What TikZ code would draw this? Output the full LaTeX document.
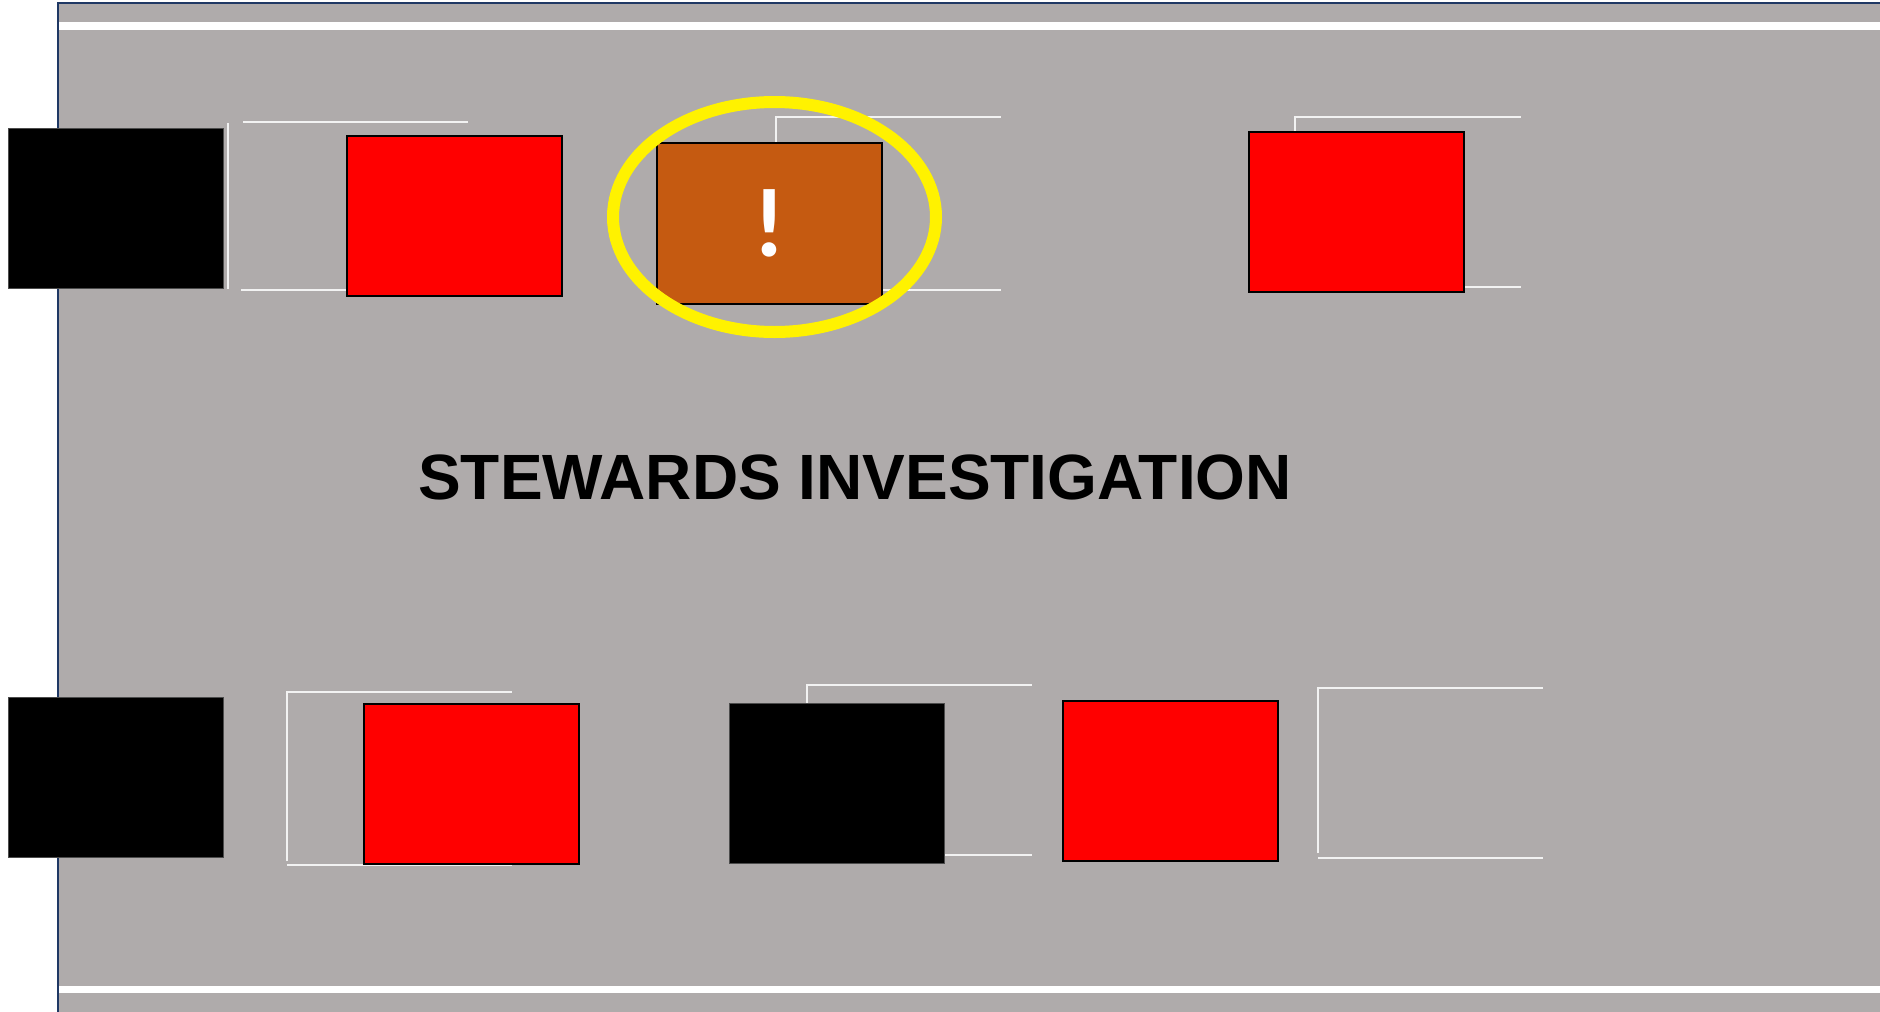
\documentclass[tikz,border=0pt]{standalone}
\usepackage{fontspec}
\usetikzlibrary{shapes.geometric}
\setmainfont{Liberation Sans}
\newfontfamily\carl{Carlito}
\definecolor{track}{HTML}{AFABAB}
\definecolor{edge}{HTML}{1F3864}
\definecolor{warn}{HTML}{C55A11}
\definecolor{mark}{HTML}{F2F2F2}
\tikzset{
  car/.style={rectangle, inner sep=0pt, outer sep=0pt, minimum width=215pt, minimum height=160pt, anchor=north west},
  blackcar/.style={car, fill=black, draw=black!70, line width=1pt},
  redcar/.style={car, fill=red, draw=black, line width=1.5pt},
  slot/.style={draw=mark, line width=2pt},
}
\begin{document}
\begin{tikzpicture}[x=1pt,y=-1pt]
\useasboundingbox (0,0) rectangle (1880,1012);
% track
\fill[track] (58,3) rectangle (1880,1012);
\draw[edge, line width=2.5pt] (58,1012) -- (58,3) -- (1880,3);
\fill[white] (59,22) rectangle (1880,30);
\fill[white] (59,986) rectangle (1880,993);
% slot markings
\draw[slot] (228,123) -- (228,289);
\draw[slot] (243,122) -- (468,122);
\draw[slot] (241,290) -- (346,290);
\draw[slot] (776,143) -- (776,117) -- (1001,117);
\draw[slot] (881,290) -- (1001,290);
\draw[slot] (1295,132) -- (1295,117) -- (1521,117);
\draw[slot] (1463,287) -- (1521,287);
\draw[slot] (287,861) -- (287,692) -- (512,692);
\draw[slot] (287,865) -- (512,865);
\draw[slot] (807,703) -- (807,685) -- (1032,685);
\draw[slot] (944,855) -- (1032,855);
\draw[slot] (1318,853) -- (1318,687);
\draw[slot] (1318,688) -- (1543,688);
\draw[slot] (1318,858) -- (1543,858);
% cars
\node[blackcar] (b1) at (8,128) {};
\node[redcar] (r1) at (347,136) {};
\node[car, fill=warn, draw=black, line width=1.5pt, minimum width=225pt, minimum height=161pt] (o1) at (657,143) {};
\node[font=\carl\bfseries\fontsize{98}{98}\selectfont, text=white] (ex) at (o1.center) {!};
\node[redcar] (r2) at (1249,132) {};
\node[blackcar] (b2) at (8,697) {};
\node[redcar] (r3) at (364,704) {};
\node[blackcar] (b3) at (729,703) {};
\node[redcar] (r4) at (1063,701) {};
% highlight
\node[draw=yellow, line width=12pt, ellipse, minimum width=323pt, minimum height=230pt, inner sep=0pt] (ring) at (774.5,217) {};
% title
\node[font=\bfseries\fontsize{64}{64}\selectfont] (title) at (855,477) {STEWARDS INVESTIGATION};
\end{tikzpicture}
\end{document}
